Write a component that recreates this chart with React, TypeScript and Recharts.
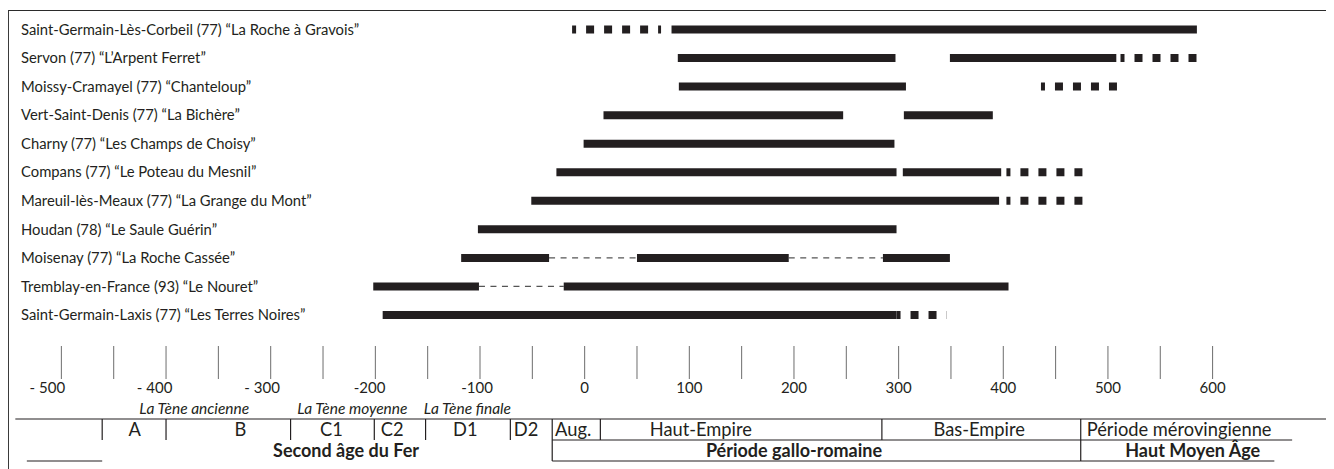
import { ComposedChart, Line, XAxis, YAxis, ReferenceDot } from 'recharts'

const INK = '#231f20'
const FONT = 'Lato, "Noto Sans", sans-serif'

// sites, top to bottom
const sites = [
  'Saint-Germain-Lès-Corbeil (77) “La Roche à Gravois”',
  'Servon (77) “L’Arpent Ferret”',
  'Moissy-Cramayel (77) “Chanteloup”',
  'Vert-Saint-Denis (77) “La Bichère”',
  'Charny (77) “Les Champs de Choisy”',
  'Compans (77) “Le Poteau du Mesnil”',
  'Mareuil-lès-Meaux (77) “La Grange du Mont”',
  'Houdan (78) “Le Saule Guérin”',
  'Moisenay (77) “La Roche Cassée”',
  'Tremblay-en-France (93) “Le Nouret”',
  'Saint-Germain-Laxis (77) “Les Terres Noires”',
]

// [site, from, to] in years
const occupation: [number, number, number][] = [
  [0, 83, 585],
  [1, 89, 297], [1, 349, 508],
  [2, 90, 307],
  [3, 18, 247], [3, 305, 390],
  [4, -1, 296],
  [5, -27, 298], [5, 304, 398],
  [6, -51, 396],
  [7, -102, 298],
  [8, -118, -34], [8, 50, 195], [8, 285, 349],
  [9, -202, -101], [9, -20, 405],
  [10, -193, 298],
]

// uncertain occupation (thick dashes)
const uncertain: [number, number, number][] = [
  [0, -12, 73],
  [1, 512, 587],
  [2, 436, 509],
  [5, 403, 478],
  [6, 403, 478],
  [10, 298, 346],
]

// hiatus (thin dashes)
const hiatus: [number, number, number][] = [
  [8, -34, 50], [8, 195, 285],
  [9, -101, -20],
]

const yearTicks = [
  -500, -450, -400, -350, -300, -250, -200, -150, -100, -50, 0, 50,
  100, 150, 200, 250, 300, 350, 400, 450, 500, 550, 600,
]
const yearLabels = ['- 500', '- 400', '- 300', '-200', '-100', '0', '100', '200', '300', '400', '500', '600']

const teneLabels = ['La Tène ancienne', 'La Tène moyenne', 'La Tène finale']
const teneCenters = [-373, -222, -112]

const phaseBounds = [-461, -400, -281, -201, -152, -71, -31, 15, 284, 474]
const phaseLabels = ['A', 'B', 'C1', 'C2', 'D1', 'D2', 'Aug.', 'Haut-Empire', 'Bas-Empire', 'Période mérovingienne']
const phaseCenters = [-430, -329, -242, -184, -114, -56, -11, 111, 377, 568]

const periodLabels = ['Second âge du Fer', 'Période gallo-romaine', 'Haut Moyen Âge']
const periodCenters = [-228, 200, 581]
const periodBounds = [-31, 474]

// layout
const W = 1326
const H = 461
const X_DOMAIN: [number, number] = [-551, 716]
const Y_DOMAIN: [number, number] = [-0.753, 15.359]
const row = (py: number) => (py - 29.5) / 28.55 // page px -> row units
const LV = {
  tickTop: 346, tickBottom: 379, year: 388, tene: 409,
  tableTop: 419, phase: 430, mid: 440, period: 451, bottom: 461,
}
const TOP = 8 // page offset of the chart

const seg = (x1: number, y1: number, x2: number, y2: number) => [
  { x: x1, y: y1 },
  { x: x2, y: y2 },
]

const rules = [
  seg(-544, row(LV.tableTop), 716, row(LV.tableTop)),
  ...phaseBounds.map((b) => seg(b, row(LV.tableTop), b, row(LV.mid))),
  ...periodBounds.map((b) => seg(b, row(LV.mid), b, row(LV.bottom))),
  seg(-31, row(LV.mid), 676, row(LV.mid)),
  seg(-31, row(LV.bottom), 659, row(LV.bottom)),
  seg(-533, row(LV.bottom), -461, row(LV.bottom)),
]

const SiteTick = ({ x, y, payload }: any) => (
  <text x={x + 13} y={y} dy="0.35em" fill={INK} fontFamily={FONT} fontSize={14.8}>
    {sites[payload.value]}
  </text>
)

const YearTick = ({ x, payload }: any) => {
  const v = payload.value
  const label = v % 100 === 0 ? yearLabels[(v + 500) / 100] : null
  // negative labels sit a little left of their tick in the original
  const shift = v < 0 ? Math.max(-14, v / 35) : 0
  return (
    <g>
      <line x1={x} x2={x} y1={LV.tickTop - TOP} y2={LV.tickBottom - TOP} stroke="#6d6d6d" strokeWidth={1} />
      {label && (
        <text x={x + shift} y={LV.year - TOP} dy="0.35em" textAnchor="middle" fill={INK} fontFamily={FONT} fontSize={15}>
          {label}
        </text>
      )}
    </g>
  )
}

const textDot = (key: string, x: number, y: number, text: string, style: any) => (
  <ReferenceDot
    key={key}
    x={x}
    y={y}
    r={1}
    ifOverflow="visible"
    shape={(p: any) => (
      <text x={p.cx} y={p.cy} dy="0.35em" textAnchor="middle" fill={INK} fontFamily={FONT} {...style}>
        {text}
      </text>
    )}
  />
)

export default function App() {
  return (
    <div style={{ position: 'relative', width: W, height: H }}>
      <ComposedChart width={W} height={H} margin={{ top: 0, right: 0, bottom: 0, left: 0 }}>
        <XAxis
          type="number"
          dataKey="x"
          domain={X_DOMAIN}
          allowDataOverflow
          ticks={yearTicks}
          interval={0}
          height={1}
          tickSize={0}
          tickMargin={0}
          tickLine={false}
          axisLine={false}
          tick={<YearTick />}
        />
        <YAxis
          type="number"
          domain={Y_DOMAIN}
          allowDataOverflow
          reversed
          mirror
          ticks={sites.map((_, i) => i)}
          interval={0}
          tickSize={0}
          tickMargin={0}
          tickLine={false}
          axisLine={false}
          tick={<SiteTick />}
        />

        {rules.map((d, i) => (
          <Line key={'r' + i} data={d} dataKey="y" type="linear" stroke={INK} strokeWidth={1.2}
            dot={false} activeDot={false} isAnimationActive={false} />
        ))}

        {hiatus.map(([s, a, b], i) => (
          <Line key={'h' + i} data={seg(a, s, b, s)} dataKey="y" type="linear" stroke="#555"
            strokeWidth={1.3} strokeDasharray="6 5.5" dot={false} activeDot={false} isAnimationActive={false} />
        ))}
        {uncertain.map(([s, a, b], i) => (
          <Line key={'u' + i} data={seg(a, s, b, s)} dataKey="y" type="linear" stroke={INK}
            strokeWidth={8} strokeDasharray="8 10" strokeDashoffset={4}
            dot={false} activeDot={false} isAnimationActive={false} />
        ))}
        {occupation.map(([s, a, b], i) => (
          <Line key={'o' + i} data={seg(a, s, b, s)} dataKey="y" type="linear" stroke={INK}
            strokeWidth={8} dot={false} activeDot={false} isAnimationActive={false} />
        ))}

        {teneLabels.map((t, i) =>
          textDot('t' + i, teneCenters[i], row(LV.tene), t, { fontSize: 15.5, fontStyle: 'italic' }))}
        {phaseLabels.map((t, i) =>
          textDot('p' + i, phaseCenters[i], row(LV.phase), t, { fontSize: 18.3 }))}
        {periodLabels.map((t, i) =>
          textDot('g' + i, periodCenters[i], row(LV.period), t, { fontSize: 18, fontWeight: 700 }))}
      </ComposedChart>
      <div
        style={{
          position: 'absolute', left: 0, top: 1.5, width: W, height: H - 1.5,
          borderTop: '1.5px solid #2b2b2b', borderLeft: '1.5px solid #3a3a3a',
          boxSizing: 'border-box', pointerEvents: 'none', zIndex: 2,
        }}
      />
    </div>
  )
}
